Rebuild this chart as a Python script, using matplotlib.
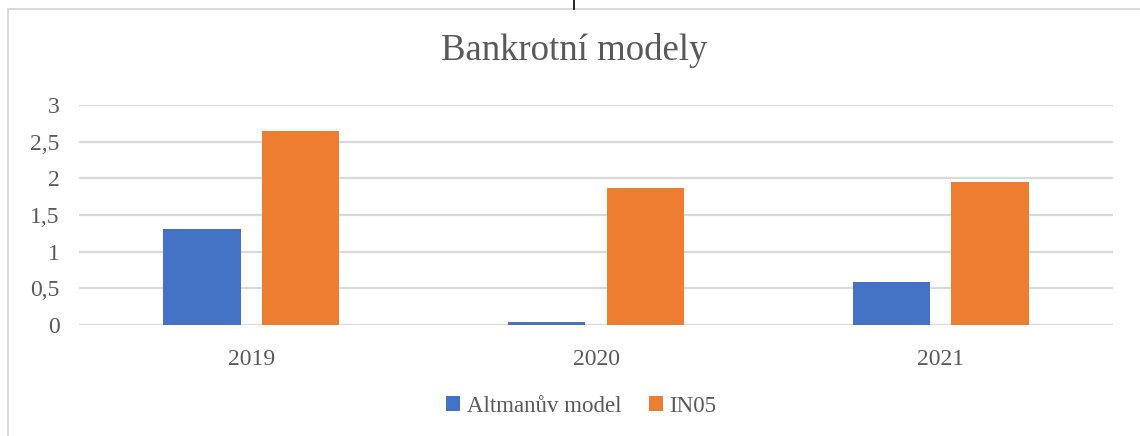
import matplotlib
matplotlib.use("Agg")
import matplotlib.pyplot as plt
import matplotlib.ticker as mticker
import numpy as np
from matplotlib.patches import Rectangle
from matplotlib.lines import Line2D

# data
years = ["2019", "2020", "2021"]
altman = [1.31, 0.04, 0.58]
in05 = [2.64, 1.87, 1.95]
series_names = ["Altmanův model", "IN05"]

COLOR_BLUE = "#4472C4"
COLOR_ORANGE = "#ED7D31"
TEXT = "#595959"
GRID = "#D9D9D9"
SERIF = ["Liberation Serif", "DejaVu Serif"]

plt.rcParams["font.family"] = SERIF

fig = plt.figure(figsize=(11.4, 4.36), dpi=100)
W, H = 1140, 436

# chart frame (Excel-like border) and the small line above it
fig.patches.append(Rectangle((8 / W, -0.01), 1.1, 1 - 9 / H + 0.01,
                             transform=fig.transFigure, fill=False,
                             edgecolor=GRID, linewidth=1.5))
fig.lines.append(Line2D([574 / W, 574 / W], [1 - 9 / H, 1.0],
                        transform=fig.transFigure, color="black", linewidth=1.2))

ax = fig.add_axes([79 / W, 1 - 325 / H, (1113 - 79) / W, (325 - 105) / H])

x = np.arange(len(years))
w = 0.225
off = 0.143
ax.bar(x - off, altman, w, color=COLOR_BLUE, label=series_names[0], zorder=3)
ax.bar(x + off, in05, w, color=COLOR_ORANGE, label=series_names[1], zorder=3)

ax.set_xlim(-0.5, 2.5)
ax.set_ylim(0, 3)
ax.set_xticks(x)
ax.set_xticklabels(years)
ax.set_yticks(np.arange(0, 3.01, 0.5))
ax.yaxis.set_major_formatter(
    mticker.FuncFormatter(lambda v, p: f"{v:g}".replace(".", ",")))
ax.tick_params(axis="both", length=0, labelsize=17, colors=TEXT)
ax.tick_params(axis="y", pad=14)
ax.tick_params(axis="x", pad=17)
ax.grid(axis="y", color=GRID, linewidth=1.6, zorder=0)
ax.set_axisbelow(True)
for s in ax.spines.values():
    s.set_visible(False)

fig.text(0.504, 1 - 51 / H, "Bankrotní modely", ha="center", va="center",
         fontsize=26.5, color=TEXT)

fig.legend(loc="center", bbox_to_anchor=(0.51, 1 - 406 / H), ncol=2,
           frameon=False, prop={"family": SERIF, "size": 16.5},
           labelcolor=TEXT,
           handlelength=0.6, handleheight=0.6, handletextpad=0.3,
           columnspacing=1.2)

fig.savefig("out.png", dpi=100, facecolor="white")
